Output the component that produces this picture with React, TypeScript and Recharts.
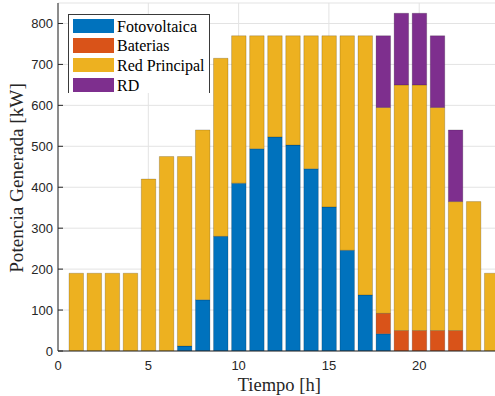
import React from 'react';
import { BarChart, Bar, XAxis, YAxis, CartesianGrid, Legend } from 'recharts';

const hours = [1, 2, 3, 4, 5, 6, 7, 8, 9, 10, 11, 12, 13, 14, 15, 16, 17, 18, 19, 20, 21, 22, 23, 24];
const fotovoltaica = [0, 0, 0, 0, 0, 0, 12, 125, 280, 410, 494, 523, 503, 445, 352, 246, 137, 42, 0, 0, 0, 0, 0, 0];
const baterias = [0, 0, 0, 0, 0, 0, 0, 0, 0, 0, 0, 0, 0, 0, 0, 0, 0, 50, 50, 50, 50, 50, 0, 0];
const redPrincipal = [190, 190, 190, 190, 420, 475, 463, 415, 435, 360, 276, 247, 267, 325, 418, 524, 633, 503, 600, 600, 545, 315, 365, 190];
const rd = [0, 0, 0, 0, 0, 0, 0, 0, 0, 0, 0, 0, 0, 0, 0, 0, 0, 175, 175, 175, 175, 175, 0, 0];

const xTicks = [0, 5, 10, 15, 20];
const yTicks = [0, 100, 200, 300, 400, 500, 600, 700, 800];

const series = [
  { key: 'pv', name: 'Fotovoltaica', color: '#0072BD' },
  { key: 'bat', name: 'Baterias', color: '#D95319' },
  { key: 'red', name: 'Red Principal', color: '#EDB120' },
  { key: 'rd', name: 'RD', color: '#7E2F8E' },
];

const data = hours.map((h, i) => ({
  hour: h,
  pv: fotovoltaica[i],
  bat: baterias[i],
  red: redPrincipal[i],
  rd: rd[i],
}));

const tickStyle = { fill: '#262626', fontSize: 13, fontFamily: '"Liberation Sans", Arial, sans-serif' };
const serif = '"Liberation Serif", "Times New Roman", serif';

const LegendBox = () => (
  <div
    style={{
      position: 'absolute',
      left: 68,
      top: 14,
      width: 142,
      height: 79,
      background: '#fff',
      borderTop: '1px solid #3a3a3a',
      borderLeft: '1px solid #3a3a3a',
      borderRight: '1px solid #3a3a3a',
      boxSizing: 'border-box',
      paddingTop: 3.5,
      paddingLeft: 3.5,
    }}
  >
    {series.map((s) => (
      <div key={s.key} style={{ display: 'flex', alignItems: 'center', height: 14.4, marginBottom: 5.3 }}>
        <div style={{ width: 41.5, height: 14.4, background: s.color, flex: 'none' }} />
        <span
          style={{
            marginLeft: 3,
            fontFamily: serif,
            fontSize: 16,
            lineHeight: '14.4px',
            color: '#000',
            whiteSpace: 'nowrap',
            position: 'relative',
            top: 1,
          }}
        >
          {s.name}
        </span>
      </div>
    ))}
  </div>
);

const YLabel = (props: any) => {
  const vb = props.viewBox || { x: 0, y: 0, width: 0, height: 0 };
  const cx = vb.x + 23;
  const cy = vb.y + vb.height / 2 + 1;
  return (
    <text
      x={cx}
      y={cy}
      transform={`rotate(-90, ${cx}, ${cy})`}
      textAnchor="middle"
      fontFamily={serif}
      fontSize={19.2}
      fill="#262626"
    >
      Potencia Generada [kW]
    </text>
  );
};

export default function App() {
  return (
    <div style={{ position: 'absolute', left: 0, top: 0, width: 495, height: 396, overflow: 'hidden', background: '#fff' }}>
      <BarChart
        width={500.5}
        height={396}
        data={data}
        margin={{ top: 3, right: 0, bottom: 0, left: 0 }}
        barSize={14.5}
      >
        <CartesianGrid stroke="#e3e3e3" strokeWidth={1} />
        <XAxis
          type="number"
          dataKey="hour"
          domain={[0, 24.5]}
          ticks={xTicks}
          interval={0}
          allowDataOverflow
          height={45}
          tickLine={false}
          tickSize={0}
          tickMargin={10}
          axisLine={{ stroke: '#262626', strokeWidth: 1 }}
          tick={tickStyle}
          label={{
            value: 'Tiempo [h]',
            position: 'insideBottom',
            offset: 5,
            style: { fontFamily: serif, fontSize: 18.5, fill: '#262626' },
          }}
        />
        <YAxis
          type="number"
          domain={[0, 850]}
          ticks={yTicks}
          interval={0}
          allowDataOverflow
          width={58}
          tickSize={-5}
          tickMargin={10}
          tickLine={{ stroke: '#262626' }}
          axisLine={{ stroke: '#262626', strokeWidth: 1 }}
          tick={tickStyle}
          label={<YLabel />}
        />
        {series.map((s) => (
          <Bar
            key={s.key}
            dataKey={s.key}
            name={s.name}
            stackId="a"
            fill={s.color}
            stroke="#000"
            strokeOpacity={0.3}
            strokeWidth={0.6}
            isAnimationActive={false}
          />
        ))}
        <Legend content={() => null} />
      </BarChart>
      <LegendBox />
    </div>
  );
}
